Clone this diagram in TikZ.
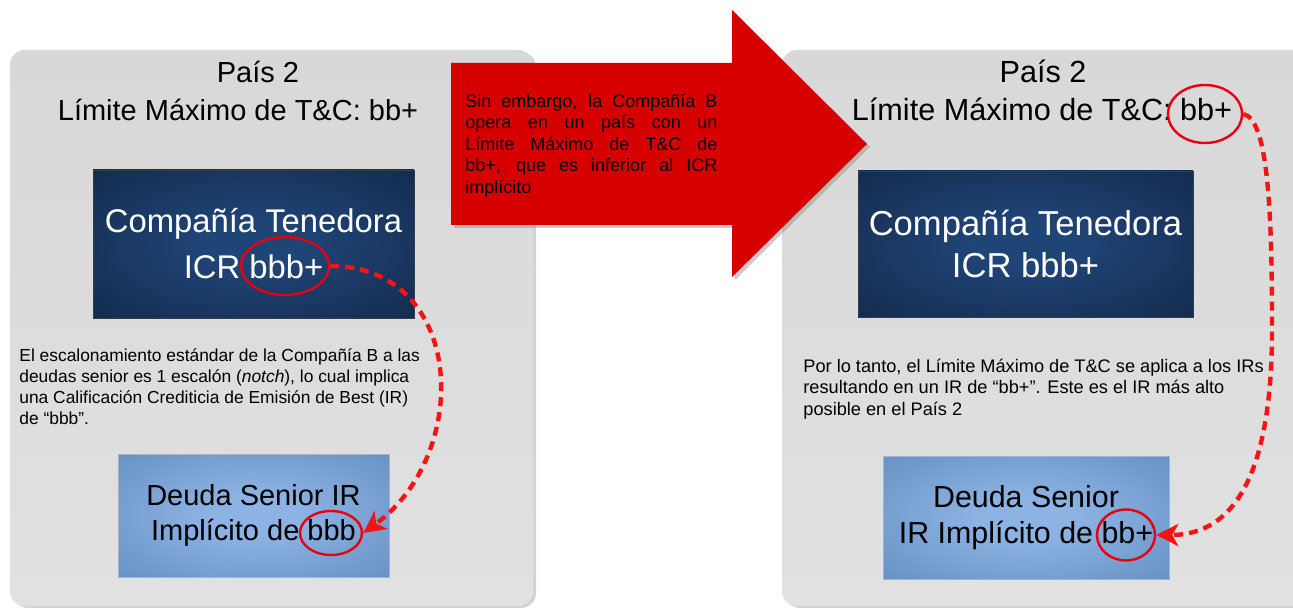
\documentclass[tikz,border=0pt]{standalone}
\usepackage{fontspec}
\setmainfont{Liberation Sans}
\usetikzlibrary{arrows.meta,shapes.geometric,shadows}
\definecolor{paneltop}{HTML}{D8D8D8}
\definecolor{panelbot}{HTML}{E1E1E1}
\definecolor{arrowred}{HTML}{D60000}
\definecolor{ringred}{HTML}{E8000E}
\definecolor{dashred}{HTML}{F51414}
\definecolor{darkin}{HTML}{1F4476}
\definecolor{darkout}{HTML}{10223F}
\definecolor{lightin}{HTML}{8CB3E3}
\definecolor{lightout}{HTML}{5A84B9}
\pgfdeclareradialshading{darkglow}{\pgfpoint{0bp}{0bp}}{color(0bp)=(darkin); color(8bp)=(darkin); color(46bp)=(darkout); color(100bp)=(darkout)}
\pgfdeclareradialshading{lightglow}{\pgfpoint{0bp}{0bp}}{color(0bp)=(lightin); color(8bp)=(lightin); color(46bp)=(lightout); color(100bp)=(lightout)}
\newcommand\myfs[2]{\fontsize{#1}{#2}\selectfont}
\begin{document}
\begin{tikzpicture}[x=0.5pt,y=-0.5pt,
  panel/.style={rounded corners=7.5pt, top color=paneltop, bottom color=panelbot,
    drop shadow={shadow xshift=1.5pt, shadow yshift=-1pt, opacity=0.35}},
  darkbox/.style={shape=rectangle, shading=darkglow, draw=darkout!70!gray, line width=0.4pt,
    text=white, align=center, inner sep=0pt},
  lightbox/.style={shape=rectangle, shading=lightglow, draw=lightout!60!white, line width=0.4pt,
    text=black, align=center, inner sep=0pt},
  ring/.style={shape=ellipse, draw=ringred, line width=1.2pt, inner sep=0pt},
  conn/.style={draw=dashred, line width=2.2pt, dash pattern=on 4.5pt off 3pt,
    -{Stealth[length=11pt,width=11pt,inset=3pt]}},
  para/.style={anchor=north west, inner sep=0pt, align=left, text=black},
  title/.style={anchor=base, inner sep=0pt, text=black}]
\useasboundingbox (0,0) rectangle (1293,608);
% panels
\path[panel] (10,50) rectangle (533,606);
\path[panel] (782,50) rectangle (1320,606);
% red arrow
\fill[arrowred, drop shadow={shadow xshift=1.5pt, shadow yshift=-1.5pt, opacity=0.4}]
  (451,63) -- (732,63) -- (732,10) -- (867,144) -- (732,277) -- (732,225) -- (451,225) -- cycle;
\node[para, font=\myfs{9pt}{10.75pt}] (msg) at (465,92)
  {\strut\makebox[126pt][s]{Sin embargo, la Compañía B}\\
   \makebox[126pt][s]{opera en un país con un}\\
   \makebox[126pt][s]{Límite Máximo de T\&C de}\\
   \makebox[126pt][s]{bb+, que es inferior al ICR}\\
   implícito};
% left panel content
\node[title, font=\myfs{14.5pt}{17pt}] (t1) at (258,83) {País 2};
\node[title, font=\myfs{14.5pt}{17pt}] (t2) at (238,121) {Límite Máximo de T\&C: bb+};
\node[darkbox, minimum width=160.5pt, minimum height=74pt, font=\myfs{16.4pt}{23pt}] (hc1) at (253.5,244)
  {Compañía Tenedora\\ICR bbb+};
\node[para, font=\myfs{8.7pt}{10.5pt}] (p1) at (19,346)
  {\strut El escalonamiento estándar de la Compañía B a las\\
   deudas senior es 1 escalón (\textit{notch}), lo cual implica\\
   una Calificación Crediticia de Emisión de Best (IR)\\
   de “bbb”.};
\node[lightbox, minimum width=135.5pt, minimum height=61.5pt, font=\myfs{14.5pt}{17.85pt}] (ds1) at (253.5,515.5)
  {Deuda Senior IR\\Implícito de bbb};
\node[ring, minimum width=44pt, minimum height=29pt] (e1) at (285,266) {};
\node[ring, minimum width=31pt, minimum height=22pt] (e2) at (331,533) {};
\draw[conn] (e1.east) .. controls +(135,0) and +(110,-80) .. (e2.east);
% right panel content
\node[title, font=\myfs{15.3pt}{18pt}] (t3) at (1043,83) {País 2};
\node[title, font=\myfs{15.3pt}{18pt}] (t4) at (1042,121) {Límite Máximo de T\&C: bb+};
\node[darkbox, minimum width=167.5pt, minimum height=73pt, font=\myfs{17.3pt}{21pt}] (hc2) at (1025.5,244)
  {Compañía Tenedora\\ICR bbb+};
\node[para, font=\myfs{9.1pt}{10.75pt}] (p2) at (803,357)
  {\strut Por lo tanto, el Límite Máximo de T\&C se aplica a los IRs\\
   resultando en un IR de “bb+”. Este es el IR más alto\\
   posible en el País 2};
\node[lightbox, minimum width=143pt, minimum height=61.5pt, font=\myfs{15.2pt}{18.3pt}] (ds2) at (1026,517.5)
  {Deuda Senior\\IR Implícito de bb+};
\node[ring, minimum width=37pt, minimum height=29pt] (e3) at (1205,114) {};
\node[ring, minimum width=29pt, minimum height=25.5pt] (e4) at (1126,535) {};
\coordinate (bend) at (1272,330);
\draw[conn] (e3.east) .. controls +(25,5) and +(0,-120) .. (bend) .. controls +(0,140) and +(80,0) .. (e4.east);
\end{tikzpicture}
\end{document}
